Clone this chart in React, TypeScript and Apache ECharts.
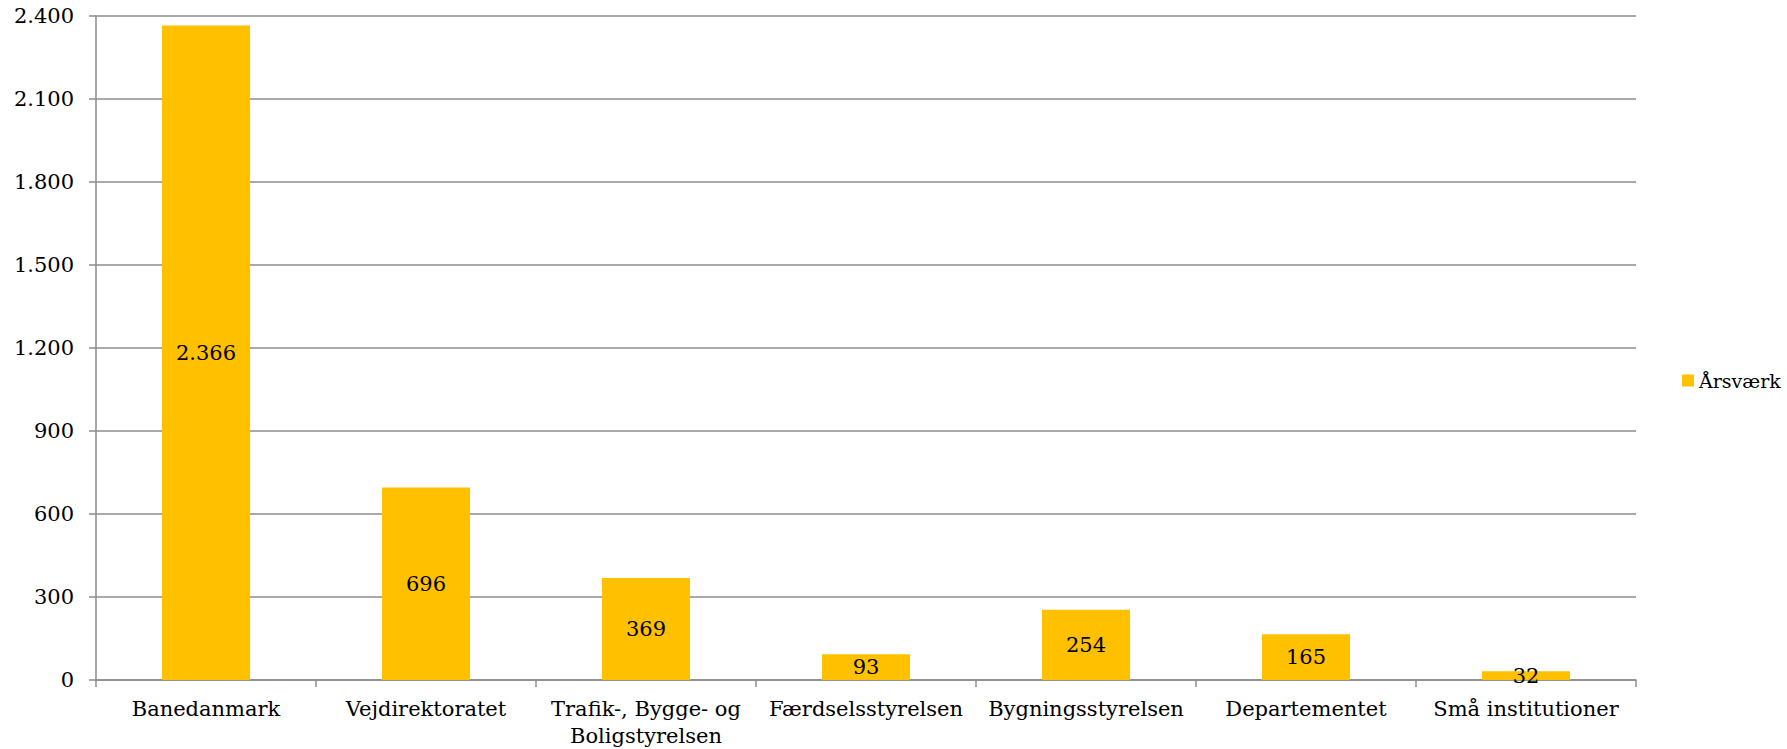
import React, { useEffect, useRef } from "react";
import * as echarts from "echarts";

const categories = [
  "Banedanmark",
  "Vejdirektoratet",
  "Trafik-, Bygge- og\nBoligstyrelsen",
  "Færdselsstyrelsen",
  "Bygningsstyrelsen",
  "Departementet",
  "Små institutioner",
];
const seriesName = "Årsværk";
const values = [2366, 696, 369, 93, 254, 165, 32];
const yMin = 0;
const yMax = 2400;
const yInterval = 300;

const fmt = (v: number) => String(v).replace(/\B(?=(\d{3})+(?!\d))/g, ".");

const FONT = "'DejaVu Serif', Georgia, serif";
const GRAY = "#8c8c8c";

export default function App() {
  const ref = useRef<HTMLDivElement>(null);
  useEffect(() => {
    if (!ref.current) return;
    const chart = echarts.init(ref.current, undefined, { renderer: "svg" });
    chart.setOption({
      animation: false,
      backgroundColor: "#ffffff",
      textStyle: { fontFamily: FONT },
      grid: { left: 96, right: 151, top: 16, bottom: 69, containLabel: false },
      legend: {
        left: 1677,
        top: 366,
        orient: "vertical",
        icon: "rect",
        itemWidth: 12,
        itemHeight: 12,
        itemGap: 5,
        textStyle: { fontFamily: FONT, fontSize: 19, color: "#000" },
        data: [seriesName],
      },
      xAxis: {
        type: "category",
        data: categories,
        boundaryGap: true,
        axisLine: { show: true, lineStyle: { color: GRAY, width: 1.5 } },
        axisTick: { show: true, length: 7, lineStyle: { color: GRAY, width: 1.5 } },
        axisLabel: {
          interval: 0,
          margin: 15,
          color: "#000",
          fontFamily: FONT,
          fontSize: 21,
          lineHeight: 27,
        },
      },
      yAxis: {
        type: "value",
        min: yMin,
        max: yMax,
        interval: yInterval,
        axisLine: { show: true, lineStyle: { color: GRAY, width: 1.5 } },
        axisTick: { show: true, length: 7, lineStyle: { color: GRAY, width: 1.5 } },
        splitLine: { show: true, lineStyle: { color: GRAY, width: 1.5 } },
        axisLabel: {
          margin: 22,
          color: "#000",
          fontFamily: FONT,
          fontSize: 21,
          formatter: (v: number) => fmt(v),
        },
      },
      series: [
        {
          name: seriesName,
          type: "bar",
          data: values,
          barWidth: "40%",
          itemStyle: { color: "#FFC000" },
          label: {
            show: true,
            position: "inside",
            color: "#000",
            fontFamily: FONT,
            fontSize: 21,
            formatter: (p: any) => fmt(p.value),
          },
        },
      ],
    });
    return () => chart.dispose();
  }, []);
  return (
    <div
      ref={ref}
      style={{ position: "fixed", left: 0, top: 0, width: 1787, height: 749, background: "#fff" }}
    />
  );
}
